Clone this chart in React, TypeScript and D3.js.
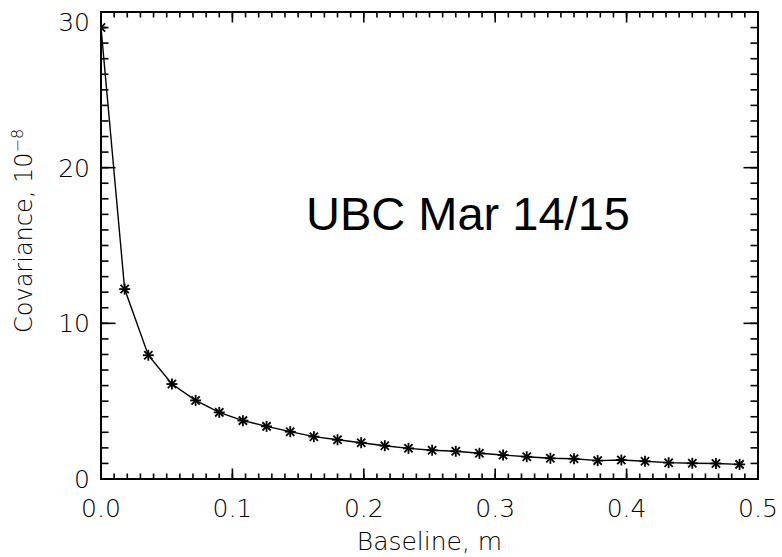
import React from "react";
import * as d3 from "d3";

const baseline = [0, 0.018, 0.036, 0.054, 0.072, 0.09, 0.108, 0.126, 0.144, 0.162, 0.18, 0.198, 0.216, 0.234, 0.252, 0.27, 0.288, 0.306, 0.324, 0.342, 0.36, 0.378, 0.396, 0.414, 0.432, 0.45, 0.468, 0.486];
const covariance = [29.0, 12.2, 7.95, 6.1, 5.05, 4.28, 3.75, 3.38, 3.04, 2.72, 2.52, 2.33, 2.14, 1.97, 1.85, 1.78, 1.65, 1.54, 1.43, 1.33, 1.3, 1.18, 1.22, 1.14, 1.05, 1.01, 1.0, 0.94];
const xMajorTicks = [0, 0.1, 0.2, 0.3, 0.4, 0.5];
const xTickLabels = ["0.0", "0.1", "0.2", "0.3", "0.4", "0.5"];
const yMajorTicks = [0, 10, 20, 30];
const yTickLabels = ["0", "10", "20", "30"];
const xMinorTicks = d3.range(0, 51).map((i) => i / 100);
const yMinorTicks = d3.range(0, 31);
const titleText = "UBC Mar 14/15";
const xLabel = "Baseline, m";
const yLabel = "Covariance, 10";
const yLabelSup = "\u22128";

const W = 782, H = 557;
const L = 101, R = 758, T = 12, B = 479;
const FONT = "'DejaVu Sans', sans-serif";

export default function App() {
  const x = d3.scaleLinear().domain([0, 0.5]).range([L, R]);
  const y = d3.scaleLinear().domain([0, 30]).range([B, T]);
  const line = d3.line<number>().x((_, i) => x(baseline[i])).y((d) => y(d));
  const pts = covariance.map((v, i) => [x(baseline[i]), y(v)]);
  const r = 5.5;
  const ax = "#000";
  return (
    <svg width={W} height={H} style={{ position: "absolute", left: 0, top: 0, background: "#fff" }}>
      <defs>
        <clipPath id="plot">
          <rect x={L} y={T} width={R - L} height={B - T} />
        </clipPath>
      </defs>
      <rect x={0} y={0} width={W} height={H} fill="#fff" />
      {xMinorTicks.map((t, i) => (
        <g key={"xm" + i} stroke={ax} strokeWidth={1.6}>
          <line x1={x(t)} x2={x(t)} y1={B} y2={B - 5.5} />
          <line x1={x(t)} x2={x(t)} y1={T} y2={T + 5.5} />
        </g>
      ))}
      {xMajorTicks.map((t, i) => (
        <g key={"xM" + i} stroke={ax} strokeWidth={1.6}>
          <line x1={x(t)} x2={x(t)} y1={B} y2={B - 10.5} />
          <line x1={x(t)} x2={x(t)} y1={T} y2={T + 10.5} />
        </g>
      ))}
      {yMinorTicks.map((t, i) => (
        <g key={"ym" + i} stroke={ax} strokeWidth={1.6}>
          <line x1={L} x2={L + 7.5} y1={y(t)} y2={y(t)} />
          <line x1={R} x2={R - 7.5} y1={y(t)} y2={y(t)} />
        </g>
      ))}
      {yMajorTicks.map((t, i) => (
        <g key={"yM" + i} stroke={ax} strokeWidth={1.6}>
          <line x1={L} x2={L + 14.5} y1={y(t)} y2={y(t)} />
          <line x1={R} x2={R - 14.5} y1={y(t)} y2={y(t)} />
        </g>
      ))}
      <rect x={L} y={T} width={R - L} height={B - T} fill="none" stroke={ax} strokeWidth={2} />
      <g clipPath="url(#plot)">
        <path d={line(covariance) || ""} fill="none" stroke="#000" strokeWidth={1.4} />
        {pts.map(([px, py], i) => (
          <g key={"s" + i} stroke="#000" strokeWidth={1.8}>
            <line x1={px - r} x2={px + r} y1={py} y2={py} />
            <line x1={px} x2={px} y1={py - r} y2={py + r} />
            <line x1={px - r * 0.75} x2={px + r * 0.75} y1={py - r * 0.75} y2={py + r * 0.75} />
            <line x1={px - r * 0.75} x2={px + r * 0.75} y1={py + r * 0.75} y2={py - r * 0.75} />
          </g>
        ))}
      </g>
      {xMajorTicks.map((t, i) => (
        <text key={"xl" + i} x={x(t)} y={517} textAnchor="middle" fontFamily={FONT} fontSize={25} fontWeight={200} fill="#000">
          {xTickLabels[i]}
        </text>
      ))}
      {yMajorTicks.map((t, i) => (
        <text key={"yl" + i} x={90} y={Math.max(y(t) + 9, T + 19)} textAnchor="end" fontFamily={FONT} fontSize={25} fontWeight={200} fill="#000">
          {yTickLabels[i]}
        </text>
      ))}
      <text x={(L + R) / 2} y={550} textAnchor="middle" fontFamily={FONT} fontSize={25} fontWeight={200} fill="#000">
        {xLabel}
      </text>
      <text transform="translate(32,333) rotate(-90)" textAnchor="start" fontFamily={FONT} fontSize={24} fontWeight={200} fill="#000">
        {yLabel}
        <tspan dy={-9} fontSize={16}>{yLabelSup}</tspan>
      </text>
      <text x={306} y={230} fontFamily="'Liberation Sans', Arial, sans-serif" fontSize={47} fill="#000">
        {titleText}
      </text>
    </svg>
  );
}
